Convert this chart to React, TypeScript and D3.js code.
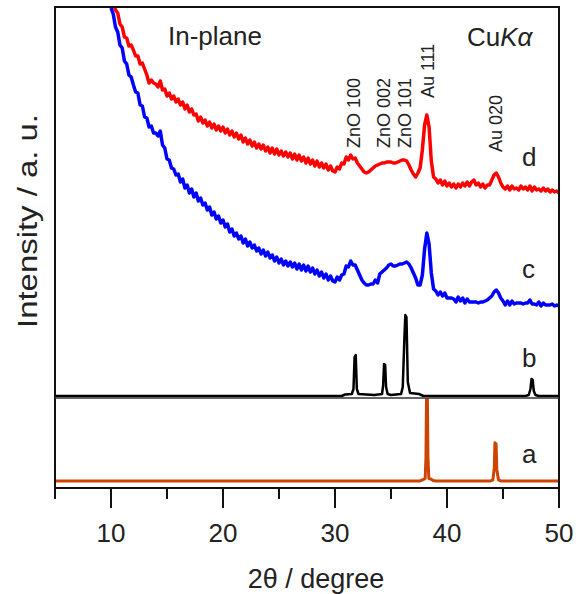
import React from "react";
import * as d3 from "d3";

// 2θ grid for the measured (noisy) curves: 10.0 .. 50.0 step 0.2
const thetaStart = 10;
const thetaStep = 0.2;

// curve d (red), intensity a.u.
const redVals = [
  402, 395, 387, 384, 373, 370, 360, 359, 351, 352,
  347, 341, 341, 333, 334, 328, 322, 314, 317, 314,
  313, 310, 316, 307, 308, 301, 304, 298, 301, 295,
  298, 292, 295, 288, 292, 285, 288, 282, 283, 276,
  280, 274, 277, 271, 275, 269, 273, 267, 271, 266,
  270, 264, 268, 262, 266, 260, 264, 258, 262, 255,
  259, 253, 257, 251, 255, 249, 253, 248, 252, 246,
  250, 244, 249, 243, 248, 242, 246, 241, 245, 240,
  244, 238, 243, 237, 242, 236, 240, 234, 239, 233,
  237, 231, 236, 230, 234, 229, 233, 227, 231, 226,
  225, 230, 228, 234, 233, 240, 237, 242, 238, 239,
  234, 231, 228, 225, 224, 225, 227, 229, 231, 232,
  233, 234, 234, 235, 235, 235, 234, 234, 235, 236,
  237, 237, 236, 232, 227, 223, 220, 224, 229, 247,
  272, 282, 270, 236, 220, 218, 214, 217, 212, 216,
  211, 214, 210, 213, 209, 213, 210, 214, 211, 215,
  211, 215, 217, 212, 214, 210, 213, 209, 212, 212,
  217, 222, 224, 220, 214, 210, 208, 211, 207, 211,
  208, 209, 207, 211, 208, 210, 207, 211, 206, 210,
  207, 208, 206, 209, 206, 208, 205, 207, 205, 206,
  204,
];

// curve c (blue), intensity a.u.
const blueVals = [
  389, 383, 370, 365, 352, 349, 336, 333, 322, 320,
  312, 305, 304, 292, 291, 280, 279, 270, 271, 264,
  264, 261, 266, 252, 249, 238, 237, 229, 228, 222,
  223, 215, 218, 209, 212, 204, 208, 200, 204, 196,
  199, 192, 194, 187, 190, 182, 185, 178, 181, 174,
  177, 170, 173, 165, 168, 161, 164, 158, 161, 154,
  158, 151, 155, 149, 152, 146, 149, 143, 147, 141,
  145, 139, 142, 136, 140, 134, 138, 132, 136, 131,
  135, 130, 134, 128, 133, 127, 132, 126, 131, 125,
  129, 123, 127, 121, 125, 119, 123, 117, 121, 116,
  115, 120, 117, 122, 123, 131, 130, 136, 132, 132,
  127, 122, 117, 114, 112, 112, 113, 113, 117, 114,
  123, 125, 127, 129, 132, 133, 131, 131, 132, 133,
  133, 134, 135, 133, 129, 124, 119, 112, 112, 122,
  148, 164, 153, 124, 108, 106, 102, 105, 101, 104,
  99, 99, 99, 98, 95, 100, 96, 99, 94, 98,
  95, 95, 95, 95, 94, 95, 95, 96, 97, 99,
  101, 105, 107, 104, 99, 96, 92, 96, 92, 96,
  93, 94, 94, 94, 93, 94, 94, 97, 93, 93,
  92, 95, 91, 94, 92, 92, 92, 93, 91, 92,
  91,
];

// curve b (black, ZnO reference): [2θ, intensity]
const zincPattern: [number, number][] = [
  [5, 1], [30.6, 1], [30.9, 2.5], [31.5, 3], [31.65, 8], [31.75, 40], [31.85, 42],
  [31.95, 8], [32.1, 3], [33.5, 2], [34.2, 3], [34.3, 12], [34.38, 33], [34.48, 32],
  [34.56, 10], [34.7, 3], [35.0, 2], [35.9, 3], [36.05, 10], [36.2, 60], [36.28, 82],
  [36.38, 80], [36.5, 15], [36.7, 4], [37.5, 3], [37.9, 1], [47.0, 1], [47.3, 2],
  [47.45, 8], [47.55, 18], [47.65, 17], [47.75, 6], [47.9, 2], [48.2, 1], [50, 1],
];

// curve a (orange, Au reference): [2θ, intensity]
const goldPattern: [number, number][] = [
  [5, 7], [37.6, 7], [37.9, 8.5], [38.05, 9.5], [38.12, 30], [38.17, 88], [38.25, 88],
  [38.3, 30], [38.38, 9.5], [38.55, 9], [38.75, 7.5], [39.0, 7], [43.9, 7], [44.1, 8],
  [44.22, 20], [44.28, 45], [44.38, 44], [44.45, 18], [44.6, 8], [44.8, 7], [50, 7],
];

const majorTicks = [10, 20, 30, 40, 50];
const minorTicks = [5, 15, 25, 35, 45];

const peakLabels: { text: string; x: number; y: number }[] = [
  { text: "ZnO 100", x: 31.8, y: 148 },
  { text: "ZnO 002", x: 34.45, y: 148 },
  { text: "ZnO 101", x: 36.35, y: 148 },
  { text: "Au 111", x: 38.4, y: 98 },
  { text: "Au 020", x: 44.5, y: 152 },
];

const curveLetters: { text: string; y: number }[] = [
  { text: "d", y: 166 },
  { text: "c", y: 278 },
  { text: "b", y: 367 },
  { text: "a", y: 463 },
];

const FONT = "'Liberation Sans', Arial, sans-serif";

export default function App() {
  const left = 55, right = 559, top = 7, mid = 397.5, bottom = 488;
  const x = d3.scaleLinear().domain([5, 50]).range([left, right]);
  const yTop = d3.scaleLinear().domain([0, 390]).range([397, 7]);
  const yBot = d3.scaleLinear().domain([0, 90]).range([bottom, mid]);

  const toPts = (vals: number[]): [number, number][] =>
    vals.map((v, i) => [thetaStart + i * thetaStep, v]);

  const lineTop = d3.line<[number, number]>().x((d) => x(d[0])).y((d) => yTop(d[1]));
  const lineBot = d3.line<[number, number]>().x((d) => x(d[0])).y((d) => yBot(d[1]));

  return (
    <svg width={580} height={594} style={{ position: "absolute", left: 0, top: 0 }}>
      <defs>
        <clipPath id="topClip">
          <rect x={left} y={top} width={right - left} height={mid - top} />
        </clipPath>
      </defs>
      <rect width={580} height={594} fill="#fff" />
      <g clipPath="url(#topClip)" fill="none" strokeLinejoin="round">
        <path d={lineTop(toPts(redVals)) || ""} stroke="#ff0000" strokeWidth={3.5} />
        <path d={lineTop(toPts(blueVals)) || ""} stroke="#0000ff" strokeWidth={3.5} />
        <path d={lineTop(zincPattern) || ""} stroke="#000" strokeWidth={2.5} />
      </g>
      <path d={lineBot(goldPattern) || ""} fill="none" stroke="#cc4400" strokeWidth={3} strokeLinejoin="round" />

      {/* frame */}
      <rect x={left} y={top} width={right - left} height={bottom - top} fill="none" stroke="#111" strokeWidth={2} />
      <line x1={left} x2={right} y1={mid + 0.5} y2={mid + 0.5} stroke="#333" strokeWidth={1.5} />

      {/* ticks */}
      {majorTicks.map((t) => (
        <g key={"M" + t}>
          <line x1={x(t)} x2={x(t)} y1={bottom} y2={bottom + 20} stroke="#111" strokeWidth={2} />
          <text x={x(t)} y={542} textAnchor="middle" fontFamily={FONT} fontSize={26} fill="#222">
            {t}
          </text>
        </g>
      ))}
      {minorTicks.map((t) => (
        <line key={"m" + t} x1={x(t)} x2={x(t)} y1={bottom} y2={bottom + 11} stroke="#111" strokeWidth={2} />
      ))}

      {/* axis titles */}
      <text x={(left + right) / 2 + 9} y={588} textAnchor="middle" fontFamily={FONT} fontSize={27} fill="#222">
        2θ / degree
      </text>
      <text
        transform="translate(37,221) rotate(-90)"
        textAnchor="middle"
        fontFamily={FONT}
        fontSize={27}
        textLength={214}
        lengthAdjust="spacingAndGlyphs"
        fill="#222"
      >
        Intensity / a. u.
      </text>

      {/* annotations */}
      <text x={168} y={45} fontFamily={FONT} fontSize={26} fill="#222">In-plane</text>
      <text x={467} y={46} fontFamily={FONT} fontSize={26} fill="#222">
        Cu<tspan fontStyle="italic">Kα</tspan>
      </text>
      {peakLabels.map((p) => (
        <text
          key={p.text}
          transform={`translate(${x(p.x) + 5},${p.y}) rotate(-90)`}
          fontFamily={FONT}
          fontSize={18}
          fill="#222"
        >
          {p.text}
        </text>
      ))}
      {curveLetters.map((c) => (
        <text key={c.text} x={522} y={c.y} fontFamily={FONT} fontSize={26} fill="#222">
          {c.text}
        </text>
      ))}
    </svg>
  );
}
